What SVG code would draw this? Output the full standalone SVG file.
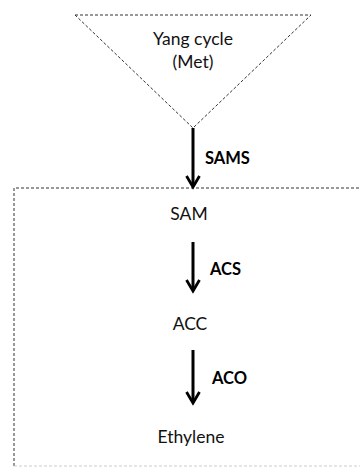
<svg xmlns="http://www.w3.org/2000/svg" width="360" height="468" viewBox="0 0 360 468">
  <style>
    .lbl { font-family: Lato, "Open Sans", "Liberation Sans", sans-serif; font-size: 17.5px; fill: #111; }
    .enz { font-family: Lato, "Open Sans", "Liberation Sans", sans-serif; font-size: 16.5px; font-weight: bold; fill: #000; }
    .dash { fill: none; stroke: #333; stroke-width: 1; stroke-dasharray: 3 2; }
    .shaft { stroke: #000; stroke-width: 3; fill: none; }
    .head { fill: none; stroke: #000; stroke-width: 2.8; }
  </style>
  <rect width="360" height="468" fill="#fff"/>

  <!-- methionine cycle -->
  <g id="yang-cycle">
    <polygon class="dash" points="75,15 311,15 193,128"/>
    <text class="lbl" x="193" y="45" text-anchor="middle">Yang cycle</text>
    <text class="lbl" x="193" y="68" text-anchor="middle">(Met)</text>
  </g>

  <!-- ethylene biosynthesis compartment -->
  <g id="pathway-box">
    <path class="dash" d="M14 466 V188 H362" stroke-width="1.6" stroke="#222"/>
    <path d="M14 466 H362" fill="none" stroke="#ccc" stroke-width="1" stroke-dasharray="3 2"/>
  </g>

  <g id="sam"><text class="lbl" x="189" y="220" text-anchor="middle">SAM</text></g>
  <g id="acc"><text class="lbl" x="190" y="330" text-anchor="middle">ACC</text></g>
  <g id="ethylene"><text class="lbl" x="191" y="443" text-anchor="middle">Ethylene</text></g>

  <g id="connectors">
    <line class="shaft" x1="193" y1="128" x2="193" y2="186"/>
    <path class="head" d="M186.5 176 L193 187 L199.5 176"/>
    <text class="enz" x="205" y="164">SAMS</text>

    <line class="shaft" x1="193" y1="242" x2="193" y2="290"/>
    <path class="head" d="M186.5 280 L193 291 L199.5 280"/>
    <text class="enz" x="210" y="275">ACS</text>

    <line class="shaft" x1="193" y1="350" x2="193" y2="402"/>
    <path class="head" d="M186.5 392 L193 403 L199.5 392"/>
    <text class="enz" x="212" y="384">ACO</text>
  </g>
</svg>
